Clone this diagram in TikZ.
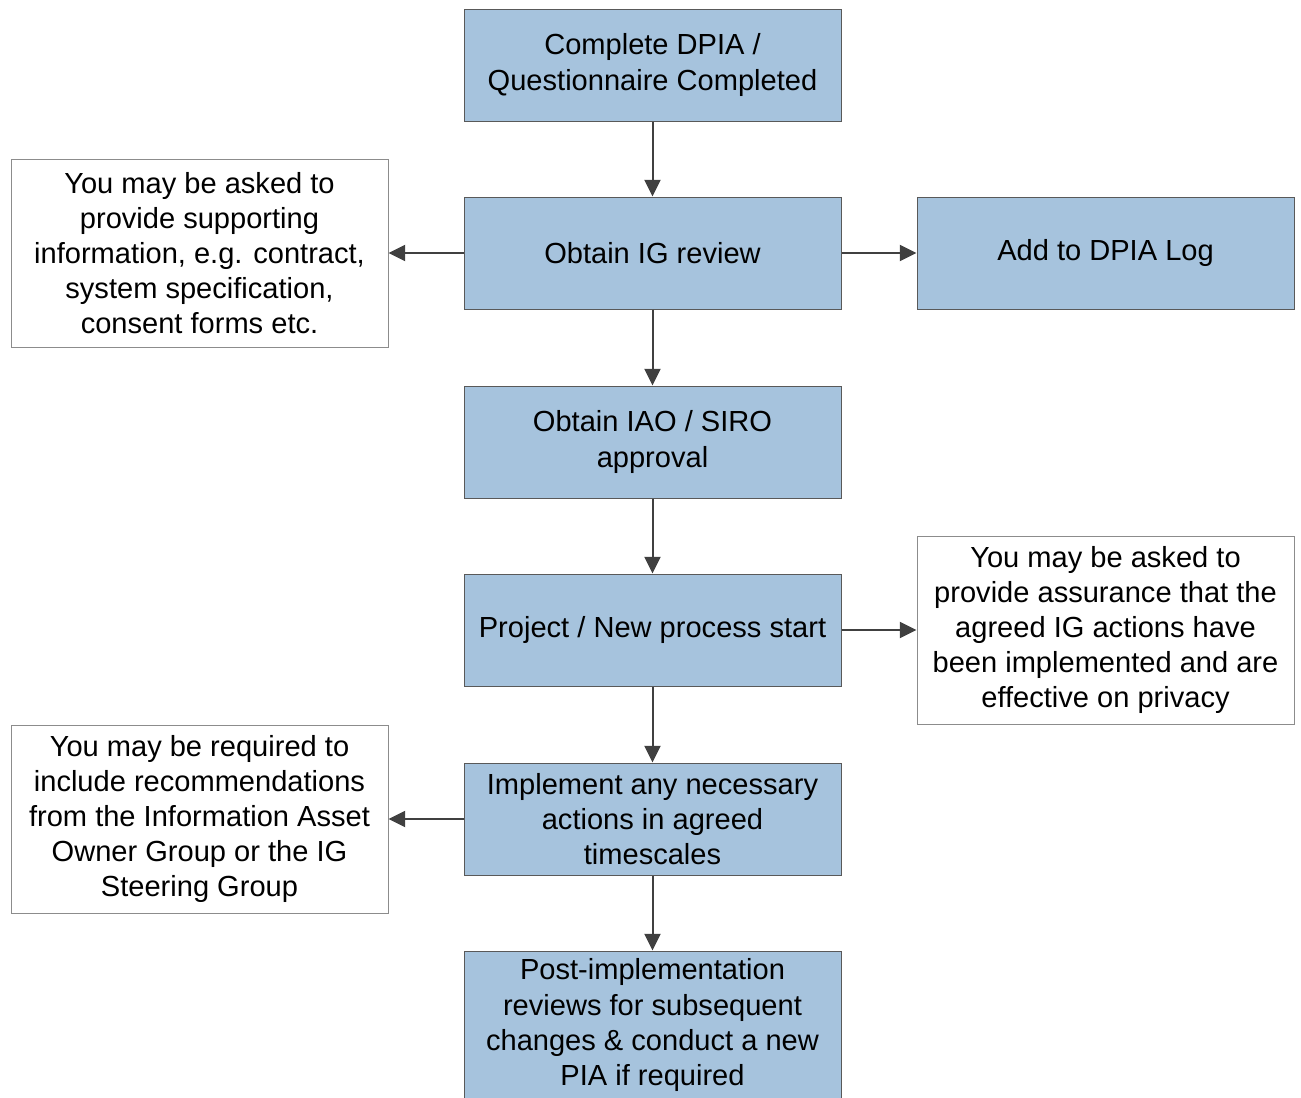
\documentclass[tikz,border=0pt]{standalone}
\usepackage{fontspec}
\setmainfont{Liberation Sans}
\usetikzlibrary{arrows.meta}
\definecolor{stepblue}{HTML}{A6C3DD}
\definecolor{arrowgrey}{HTML}{404040}
\begin{document}
\begin{tikzpicture}[x=0.75pt,y=-0.75pt,
	stepbox/.style={draw=black!65,fill=stepblue,line width=0.75pt,minimum width=282.75pt,minimum height=84pt,align=center,inner sep=0pt,font=\fontsize{21.8}{26.3}\selectfont},
	notebox/.style={draw=black!45,fill=white,line width=0.75pt,minimum width=282.75pt,minimum height=141pt,align=center,inner sep=0pt,font=\fontsize{21.8}{26.3}\selectfont},
	flow/.style={draw=arrowgrey,line width=1.5pt,-{Triangle[length=12.5pt,width=12pt]}}]
	\useasboundingbox (0,0) rectangle (1301,1097);
	\begin{scope}
	\clip (0,0) rectangle (1301,1097);
	\node[stepbox] (dpia) at (652.5,65) {Complete DPIA /\\Questionnaire Completed};
	\node[stepbox] (review) at (652.5,253) {Obtain IG review};
	\node[stepbox] (log) at (1105.5,253) {Add to DPIA Log};
	\node[stepbox] (approval) at (652.5,442) {Obtain IAO / SIRO\\approval};
	\node[stepbox] (start) at (652.5,630) {Project / New process start};
	\node[stepbox] (actions) at (652.5,819) {Implement any necessary\\actions in agreed\\timescales};
	\node[stepbox,minimum height=111pt] (post) at (652.5,1025) {Post-implementation\\reviews for subsequent\\changes \& conduct a new\\PIA if required};
	\node[notebox] (support) at (199.5,253) {You may be asked to\\provide supporting\\information, e.g. contract,\\system specification,\\consent forms etc.};
	\node[notebox] (assure) at (1105.5,630) {You may be asked to\\provide assurance that the\\agreed IG actions have\\been implemented and are\\effective on privacy};
	\node[notebox] (recommend) at (199.5,819) {You may be required to\\include recommendations\\from the Information Asset\\Owner Group or the IG\\Steering Group};
	\end{scope}
	\draw[flow] (dpia) -- (review);
	\draw[flow] (review) -- (approval);
	\draw[flow] (approval) -- (start);
	\draw[flow] (start) -- (actions);
	\draw[flow] (actions) -- (post);
	\draw[flow] (review) -- (log);
	\draw[flow] (review) -- (support);
	\draw[flow] (start) -- (assure);
	\draw[flow] (actions) -- (recommend);
\end{tikzpicture}
\end{document}
